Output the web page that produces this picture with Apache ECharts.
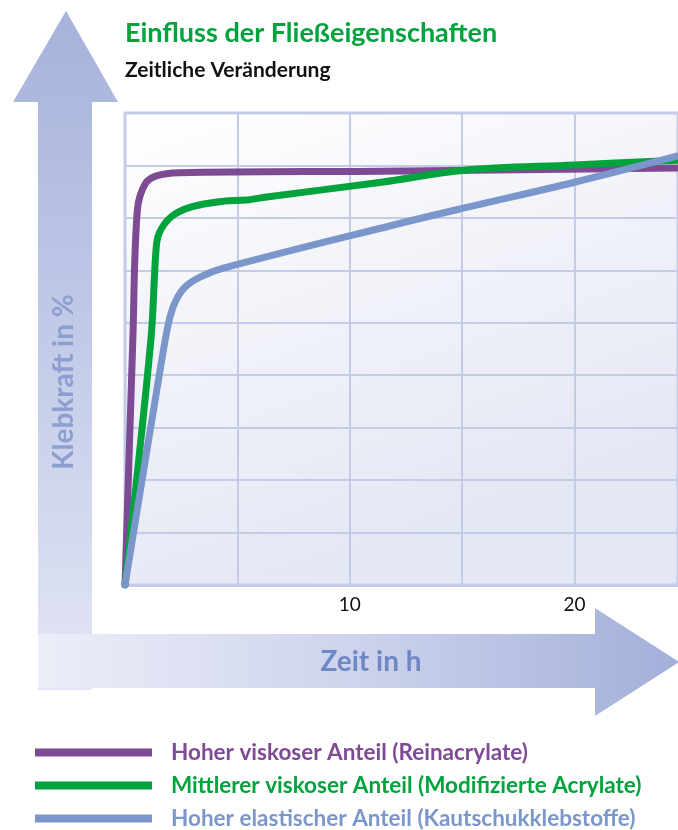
<!DOCTYPE html>
<html>
<head>
<meta charset="utf-8">
<script src="https://cdn.jsdelivr.net/npm/echarts@6/dist/echarts.min.js"></script>
<style>
  html, body { margin: 0; padding: 0; background: #fff; }
  #chart { width: 678px; height: 830px; }
</style>
</head>
<body>
<div id="chart"></div>
<script>
// Zeit in h / Klebkraft (relative units, 0..90 on the plot)
const reinTime = [0, 0.35, 0.55, 0.9, 1.4, 2.4, 11.4, 24.6];
const reinForce = [0, 47, 71.5, 76.5, 78, 78.6, 78.9, 79.5];

const modTime = [0, 1.15, 1.38, 1.52, 2.05, 2.95, 4.4, 5.4, 6.3, 11.4, 15.1, 20, 24.6];
const modForce = [0, 46.7, 63.9, 67.1, 70.2, 72.1, 73.2, 73.4, 74.0, 76.8, 79.1, 80.1, 81.0];

const kautTime = [0, 1.71, 2.0, 2.27, 2.67, 3.34, 4.37, 11.9, 15.1, 20, 24.6];
const kautForce = [0, 44.8, 51.1, 54.3, 56.8, 58.7, 60.4, 68.6, 71.9, 76.8, 81.8];

const seriesNames = [
  "Hoher viskoser Anteil (Reinacrylate)",
  "Mittlerer viskoser Anteil (Modifizierte Acrylate)",
  "Hoher elastischer Anteil (Kautschukklebstoffe)"
];
const xTickLabels = [10, 20];

const colorList = ["#7f4a94", "#00a33c", "#7b96cb"];
const gridColor = "#c4cbe7";
const font = "Lato";

function zip(xs, ys) {
  return xs.map((x, i) => [x, ys[i]]);
}

const chart = echarts.init(document.getElementById("chart"));

const lineSeries = [
  zip(reinTime, reinForce),
  zip(modTime, modForce),
  zip(kautTime, kautForce)
].map((d, i) => ({
  name: seriesNames[i],
  type: "line",
  data: d,
  smooth: 0.35,
  symbol: "none",
  z: 3 + i,
  lineStyle: { width: 7, color: colorList[i], cap: "round", join: "round" },
  itemStyle: { color: colorList[i] }
}));

chart.setOption({
  animation: false,
  backgroundColor: "#fff",
  color: colorList,
  title: [
    {
      text: "Einfluss der Fließeigenschaften",
      left: 120,
      top: 15,
      textStyle: { color: "#00a33c", fontSize: 27, fontWeight: "bold", fontFamily: font }
    },
    {
      text: "Zeitliche Veränderung",
      left: 120,
      top: 55,
      textStyle: { color: "#111", fontSize: 21, fontWeight: "bold", fontFamily: font }
    }
  ],
  grid: {
    left: 125,
    top: 113,
    right: 0,
    bottom: 245,
    show: true,
    borderColor: gridColor,
    borderWidth: 3,
    backgroundColor: new echarts.graphic.LinearGradient(0, 0, 0.3, 1, [
      { offset: 0, color: "#ffffff" },
      { offset: 0.4, color: "#f4f5fa" },
      { offset: 1, color: "#e4e7f4" }
    ])
  },
  xAxis: {
    type: "value",
    min: 0,
    max: 24.6,
    interval: 5,
    axisLine: { show: true, lineStyle: { color: gridColor, width: 3 } },
    axisTick: { show: false },
    splitLine: { show: true, lineStyle: { color: gridColor, width: 2 } },
    axisLabel: {
      margin: 10,
      color: "#111",
      fontSize: 19,
      fontFamily: font,
      showMaxLabel: false,
      formatter: v => (xTickLabels.indexOf(v) >= 0 ? String(v) : "")
    }
  },
  yAxis: {
    type: "value",
    min: 0,
    max: 90,
    interval: 10,
    axisLine: { show: false },
    axisTick: { show: false },
    axisLabel: { show: false },
    splitLine: { show: true, lineStyle: { color: gridColor, width: 2 } }
  },
  legend: {
    orient: "vertical",
    left: 35,
    top: 741,
    padding: 0,
    icon: "rect",
    itemWidth: 117,
    itemHeight: 8,
    itemGap: 10,
    selectedMode: false,
    textStyle: {
      fontSize: 22.5,
      fontWeight: "bold",
      fontFamily: font,
      lineHeight: 22,
      padding: [0, 0, 0, 14]
    },
    data: seriesNames.map((n, i) => ({ name: n, textStyle: { color: colorList[i] } }))
  },
  graphic: [
    {
      type: "polygon",
      z: 0,
      shape: {
        points: [[66, 11], [118, 102], [92, 102], [92, 690], [38, 690], [38, 102], [13, 102]]
      },
      style: {
        fill: new echarts.graphic.LinearGradient(0, 0, 0, 1, [
          { offset: 0, color: "#a6b2db" },
          { offset: 0.5, color: "#c3cbe8" },
          { offset: 1, color: "#e3e6f4" }
        ])
      }
    },
    {
      type: "polygon",
      z: 1,
      shape: {
        points: [[38, 634], [595, 634], [595, 608], [679, 662], [595, 716], [595, 688], [38, 688]]
      },
      style: {
        fill: new echarts.graphic.LinearGradient(0, 0, 1, 0, [
          { offset: 0, color: "#eceef8" },
          { offset: 0.5, color: "#cdd3ec" },
          { offset: 1, color: "#a2afd9" }
        ])
      }
    },
    {
      type: "text",
      z: 5,
      x: 371,
      y: 662,
      style: {
        text: "Zeit in h",
        fill: "#6f88c4",
        fontSize: 28,
        fontWeight: "bold",
        fontFamily: font,
        align: "center",
        verticalAlign: "middle"
      }
    },
    {
      type: "text",
      z: 5,
      x: 64,
      y: 382,
      rotation: Math.PI / 2,
      style: {
        text: "Klebkraft in %",
        fill: "#8d9ed0",
        fontSize: 28,
        fontWeight: "bold",
        fontFamily: font,
        align: "center",
        verticalAlign: "middle"
      }
    }
  ],
  series: lineSeries
});
</script>
</body>
</html>
